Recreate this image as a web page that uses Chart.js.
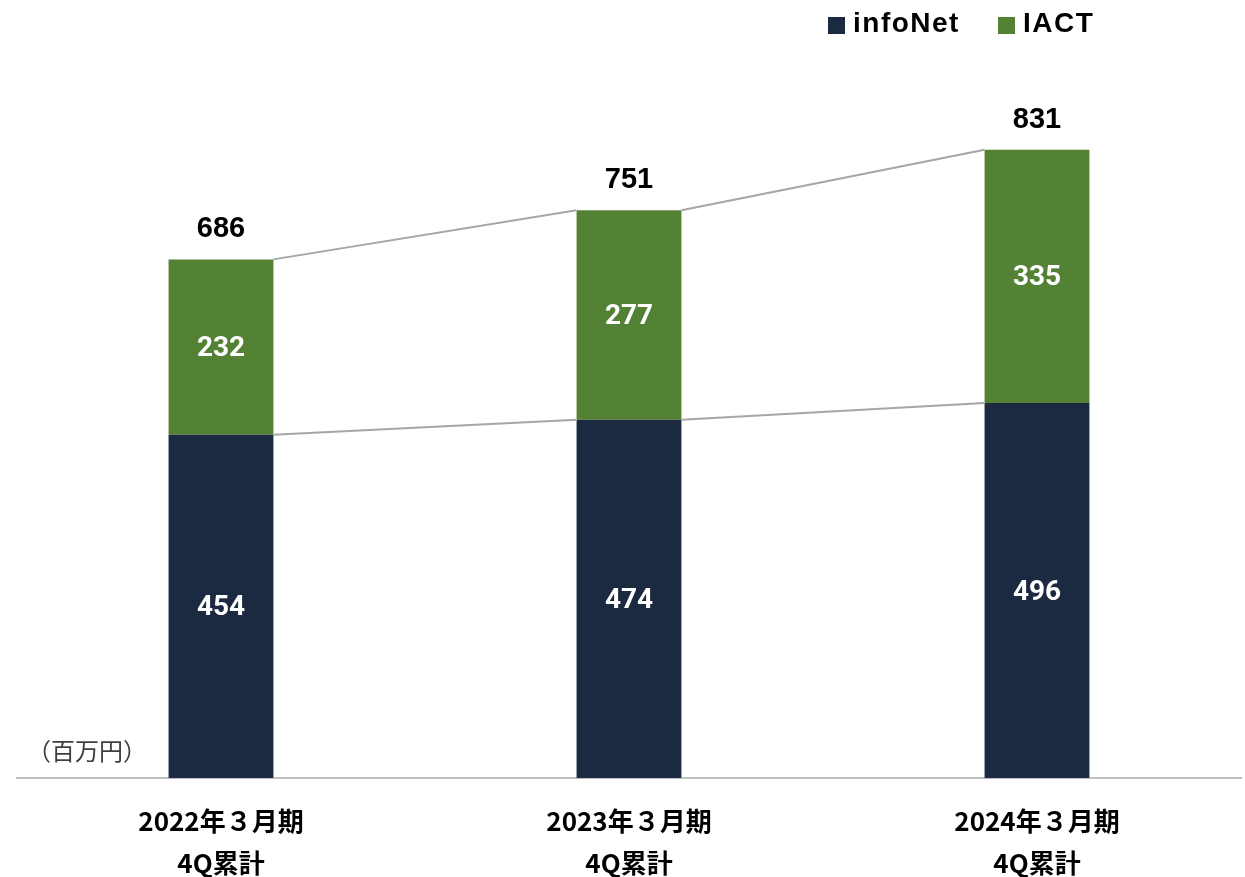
<!DOCTYPE html>
<html>
<head>
<meta charset="utf-8">
<script src="https://cdn.jsdelivr.net/npm/chart.js@4"></script>
<style>
  html, body { margin: 0; padding: 0; background: #fff; }
  #wrap { width: 1245px; height: 877px; }
</style>
</head>
<body>
<div id="wrap"><canvas id="grafica"></canvas></div>
<script>
const categorias = [['2022年３月期', '4Q累計'], ['2023年３月期', '4Q累計'], ['2024年３月期', '4Q累計']];
const infoNet = [454, 474, 496];
const iact = [232, 277, 335];
const totales = [686, 751, 831];

const colorInfoNet = '#1b2a41';
const colorIact = '#548235';

// etiquetas dentro de las barras, totales, lineas de union, leyenda y unidad
const extras = {
  id: 'extras',
  afterDatasetsDraw(chart) {
    const ctx = chart.ctx;
    const m0 = chart.getDatasetMeta(0).data;
    const m1 = chart.getDatasetMeta(1).data;

    // lineas grises entre barras
    ctx.save();
    ctx.strokeStyle = '#a6a6a6';
    ctx.lineWidth = 2;
    [m0, m1].forEach(barras => {
      for (let i = 0; i < barras.length - 1; i++) {
        const a = barras[i], b = barras[i + 1];
        ctx.beginPath();
        ctx.moveTo(a.x + a.width / 2, a.y);
        ctx.lineTo(b.x - b.width / 2, b.y);
        ctx.stroke();
      }
    });
    ctx.restore();

    ctx.save();
    ctx.textAlign = 'center';
    ctx.textBaseline = 'middle';
    ctx.fillStyle = '#ffffff';
    ctx.font = 'bold 28px Roboto';
    chart.data.datasets.forEach((ds, di) => {
      chart.getDatasetMeta(di).data.forEach((bar, i) => {
        ctx.fillText(String(ds.data[i]), bar.x, (bar.y + bar.base) / 2 + 2);
      });
    });
    ctx.fillStyle = '#000000';
    ctx.font = 'bold 29px "Liberation Sans"';
    m1.forEach((bar, i) => {
      ctx.fillText(String(totales[i]), bar.x, bar.y - 30);
    });

    // unidad
    ctx.fillStyle = '#3f3f3f';
    ctx.font = '24px "Noto Sans CJK JP"';
    ctx.textAlign = 'left';
    ctx.fillText('（百万円）', 27, 751);

    // leyenda
    const items = [{x: 828, ds: chart.data.datasets[0]}, {x: 998, ds: chart.data.datasets[1]}];
    ctx.font = 'bold 28px "Liberation Sans"';
    ctx.letterSpacing = '1.5px';
    items.forEach(it => {
      ctx.fillStyle = it.ds.backgroundColor;
      ctx.fillRect(it.x, 17, 17, 17);
      ctx.fillStyle = '#000000';
      ctx.fillText(it.ds.label, it.x + 25, 24);
    });
    ctx.restore();
  }
};

new Chart(document.getElementById('grafica'), {
  type: 'bar',
  data: {
    labels: categorias,
    datasets: [
      { label: 'infoNet', data: infoNet, backgroundColor: colorInfoNet, barPercentage: 0.514, categoryPercentage: 0.5 },
      { label: 'IACT', data: iact, backgroundColor: colorIact, barPercentage: 0.514, categoryPercentage: 0.5 }
    ]
  },
  options: {
    responsive: true,
    maintainAspectRatio: false,
    animation: false,
    layout: { padding: { top: 22, left: 17, right: 4, bottom: 0 } },
    plugins: {
      legend: { display: false },
      tooltip: { enabled: false }
    },
    scales: {
      x: {
        stacked: true,
        grid: { display: false },
        border: { display: true, color: '#c0c0c0', width: 2 },
        afterFit(scale) { scale.height = 99; },
        ticks: {
          color: '#000000',
          padding: 14,
          font: { family: '"Noto Sans CJK JP"', weight: 'bold', size: 26, lineHeight: 1.62 }
        }
      },
      y: {
        stacked: true,
        display: false,
        min: 0,
        max: 1000
      }
    }
  },
  plugins: [extras]
});
</script>
</body>
</html>
